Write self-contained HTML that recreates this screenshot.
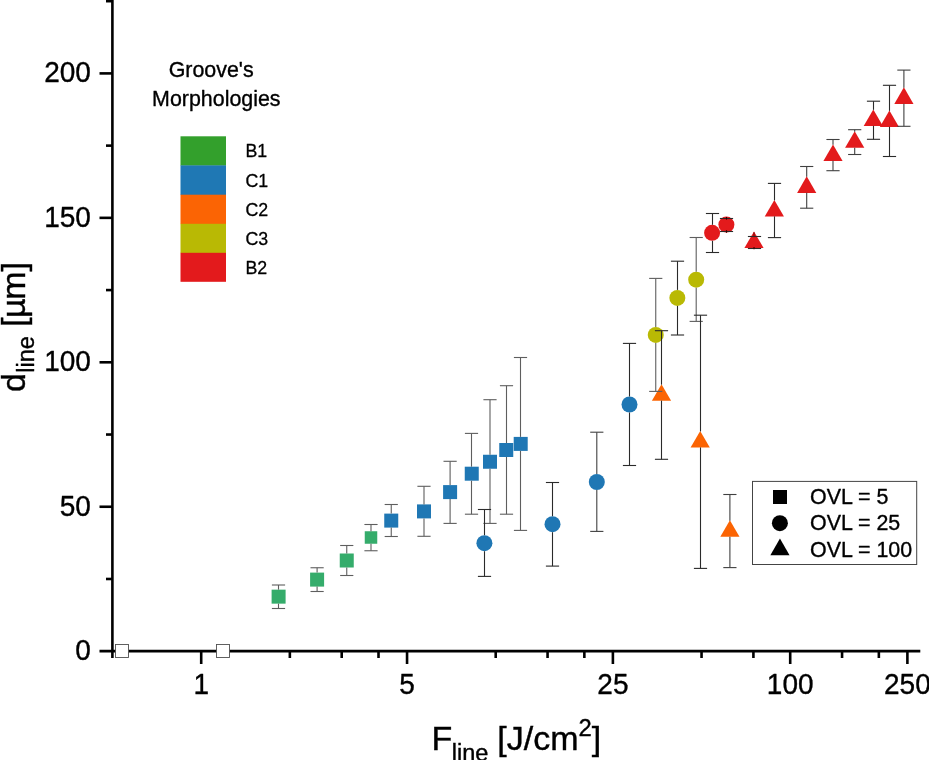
<!DOCTYPE html>
<html lang="en"><head><meta charset="utf-8"><title>d_line vs F_line</title>
<style>html,body{margin:0;padding:0;background:#fff}body{width:929px;height:760px;overflow:hidden}svg{display:block}</style>
</head><body>
<svg width="929" height="760" viewBox="0 0 929 760" font-family='"Liberation Sans", Arial, sans-serif'>
<rect width="929" height="760" fill="#fff"/>
<g stroke="#000" stroke-width="2.6" fill="none" stroke-linecap="butt">
<line x1="112.4" y1="0" x2="112.4" y2="657.9"/>
<line x1="99.5" y1="651.1" x2="920.3" y2="651.1"/>
<line x1="99.5" y1="506.75" x2="112.4" y2="506.75"/>
<line x1="99.5" y1="362.30" x2="112.4" y2="362.30"/>
<line x1="99.5" y1="217.85" x2="112.4" y2="217.85"/>
<line x1="99.5" y1="73.40" x2="112.4" y2="73.40"/>
<line x1="106" y1="578.98" x2="112.4" y2="578.98"/>
<line x1="106" y1="434.53" x2="112.4" y2="434.53"/>
<line x1="106" y1="290.08" x2="112.4" y2="290.08"/>
<line x1="106" y1="145.63" x2="112.4" y2="145.63"/>
<line x1="106" y1="1.18" x2="112.4" y2="1.18"/>
<line x1="201.20" y1="651.2" x2="201.20" y2="664"/>
<line x1="407.05" y1="651.2" x2="407.05" y2="664"/>
<line x1="612.89" y1="651.2" x2="612.89" y2="664"/>
<line x1="790.20" y1="651.2" x2="790.20" y2="664"/>
<line x1="907.39" y1="651.2" x2="907.39" y2="664"/>
<line x1="289.85" y1="651.2" x2="289.85" y2="658"/>
<line x1="341.71" y1="651.2" x2="341.71" y2="658"/>
<line x1="378.51" y1="651.2" x2="378.51" y2="658"/>
<line x1="495.70" y1="651.2" x2="495.70" y2="658"/>
<line x1="547.56" y1="651.2" x2="547.56" y2="658"/>
<line x1="584.35" y1="651.2" x2="584.35" y2="658"/>
<line x1="701.55" y1="651.2" x2="701.55" y2="658"/>
<line x1="753.41" y1="651.2" x2="753.41" y2="658"/>
<line x1="842.06" y1="651.2" x2="842.06" y2="658"/>
<line x1="878.85" y1="651.2" x2="878.85" y2="658"/>
</g>
<text transform="translate(90.90,660.20) scale(1,1.04)" font-size="28" text-anchor="end" fill="#000" stroke="#000" stroke-width="0.35" stroke-linejoin="round">0</text>
<text transform="translate(90.90,515.75) scale(1,1.04)" font-size="28" text-anchor="end" fill="#000" stroke="#000" stroke-width="0.35" stroke-linejoin="round">50</text>
<text transform="translate(90.90,371.30) scale(1,1.04)" font-size="28" text-anchor="end" fill="#000" stroke="#000" stroke-width="0.35" stroke-linejoin="round">100</text>
<text transform="translate(90.90,226.85) scale(1,1.04)" font-size="28" text-anchor="end" fill="#000" stroke="#000" stroke-width="0.35" stroke-linejoin="round">150</text>
<text transform="translate(90.90,82.40) scale(1,1.04)" font-size="28" text-anchor="end" fill="#000" stroke="#000" stroke-width="0.35" stroke-linejoin="round">200</text>
<text transform="translate(201.20,694.20) scale(1,1.04)" font-size="28" text-anchor="middle" fill="#000" stroke="#000" stroke-width="0.35" stroke-linejoin="round">1</text>
<text transform="translate(407.05,694.20) scale(1,1.04)" font-size="28" text-anchor="middle" fill="#000" stroke="#000" stroke-width="0.35" stroke-linejoin="round">5</text>
<text transform="translate(612.89,694.20) scale(1,1.04)" font-size="28" text-anchor="middle" fill="#000" stroke="#000" stroke-width="0.35" stroke-linejoin="round">25</text>
<text transform="translate(790.20,694.20) scale(1,1.04)" font-size="28" text-anchor="middle" fill="#000" stroke="#000" stroke-width="0.35" stroke-linejoin="round">100</text>
<text transform="translate(907.39,694.20) scale(1,1.04)" font-size="28" text-anchor="middle" fill="#000" stroke="#000" stroke-width="0.35" stroke-linejoin="round">250</text>
<text x="431.6" y="749.6" font-size="34" fill="#000" stroke="#000" stroke-width="0.4">F<tspan font-size="23.5" dy="11" dx="-0.6">line</tspan><tspan dy="-11" dx="-0.5"> [J/cm</tspan><tspan font-size="23.8" dy="-13.3">2</tspan><tspan dy="13.3">]</tspan></text>
<text transform="translate(25.2,392) rotate(-90)" font-size="34" fill="#000" stroke="#000" stroke-width="0.4">d<tspan font-size="23.5" dy="8.7" dx="0.3">line</tspan><tspan dy="-8.7" dx="-0.2"> [</tspan><tspan dx="-0.5">µ</tspan><tspan dx="-1.4">m]</tspan></text>
<rect x="115.5" y="644.5" width="13" height="13" fill="#fff" stroke="#505050" stroke-width="0.9"/>
<rect x="216.5" y="644.5" width="13" height="13" fill="#fff" stroke="#505050" stroke-width="0.9"/>
<rect x="271.60" y="589.65" width="14" height="14" fill="#35ac6b"/>
<rect x="310.10" y="572.60" width="14" height="14" fill="#35ac6b"/>
<rect x="339.75" y="553.50" width="14" height="14" fill="#35ac6b"/>
<rect x="364.75" y="531.25" width="12.5" height="12.5" fill="#35ac6b"/>
<rect x="384.25" y="513.60" width="14" height="14" fill="#1f77b4"/>
<rect x="417.00" y="504.40" width="14" height="14" fill="#1f77b4"/>
<rect x="443.10" y="485.10" width="14" height="14" fill="#1f77b4"/>
<rect x="464.75" y="466.70" width="14" height="14" fill="#1f77b4"/>
<rect x="483.00" y="454.75" width="14" height="14" fill="#1f77b4"/>
<rect x="499.25" y="443.00" width="14" height="14" fill="#1f77b4"/>
<rect x="513.70" y="436.90" width="14" height="14" fill="#1f77b4"/>
<circle cx="484.4" cy="543.2" r="8" fill="#1f77b4"/>
<circle cx="552.5" cy="524.2" r="8" fill="#1f77b4"/>
<circle cx="596.8" cy="482" r="8" fill="#1f77b4"/>
<circle cx="629.5" cy="404.5" r="8" fill="#1f77b4"/>
<circle cx="655.75" cy="334.9" r="8" fill="#b9b904"/>
<circle cx="677.35" cy="297.9" r="8" fill="#b9b904"/>
<circle cx="696.2" cy="279.7" r="8" fill="#b9b904"/>
<circle cx="712.1" cy="232.8" r="8" fill="#e31a1c"/>
<circle cx="726.4" cy="224.6" r="8" fill="#e31a1c"/>
<polygon points="651.90,400.78 671.10,400.78 661.50,384.18" fill="#fb6403"/>
<polygon points="690.60,447.58 709.80,447.58 700.20,430.98" fill="#fb6403"/>
<polygon points="720.30,536.78 739.50,536.78 729.90,520.18" fill="#fb6403"/>
<polygon points="744.40,247.98 763.60,247.98 754.00,231.38" fill="#e31a1c"/>
<polygon points="764.75,216.48 783.95,216.48 774.35,199.88" fill="#e31a1c"/>
<polygon points="797.10,192.88 816.30,192.88 806.70,176.28" fill="#e31a1c"/>
<polygon points="823.40,160.98 842.60,160.98 833.00,144.38" fill="#e31a1c"/>
<polygon points="845.10,147.78 864.30,147.78 854.70,131.18" fill="#e31a1c"/>
<polygon points="863.70,125.98 882.90,125.98 873.30,109.38" fill="#e31a1c"/>
<polygon points="879.80,126.98 899.00,126.98 889.40,110.38" fill="#e31a1c"/>
<polygon points="894.30,103.88 913.50,103.88 903.90,87.28" fill="#e31a1c"/>
<g fill="none" stroke-width="1.1">
<line x1="278.5" y1="585" x2="278.5" y2="589.65" stroke="#5e5e5e"/>
<line x1="278.5" y1="603.65" x2="278.5" y2="608.5" stroke="#5e5e5e"/>
<line x1="271.90" y1="585" x2="285.10" y2="585" stroke="#5e5e5e"/>
<line x1="271.90" y1="608.5" x2="285.10" y2="608.5" stroke="#5e5e5e"/>
<line x1="317.1" y1="567.75" x2="317.1" y2="572.60" stroke="#5e5e5e"/>
<line x1="317.1" y1="586.60" x2="317.1" y2="591.5" stroke="#5e5e5e"/>
<line x1="310.50" y1="567.75" x2="323.70" y2="567.75" stroke="#5e5e5e"/>
<line x1="310.50" y1="591.5" x2="323.70" y2="591.5" stroke="#5e5e5e"/>
<line x1="346.75" y1="545.5" x2="346.75" y2="553.50" stroke="#5e5e5e"/>
<line x1="346.75" y1="567.50" x2="346.75" y2="575.5" stroke="#5e5e5e"/>
<line x1="340.15" y1="545.5" x2="353.35" y2="545.5" stroke="#5e5e5e"/>
<line x1="340.15" y1="575.5" x2="353.35" y2="575.5" stroke="#5e5e5e"/>
<line x1="371" y1="524.5" x2="371" y2="531.25" stroke="#5e5e5e"/>
<line x1="371" y1="543.75" x2="371" y2="550.75" stroke="#5e5e5e"/>
<line x1="364.40" y1="524.5" x2="377.60" y2="524.5" stroke="#5e5e5e"/>
<line x1="364.40" y1="550.75" x2="377.60" y2="550.75" stroke="#5e5e5e"/>
<line x1="391.25" y1="504.5" x2="391.25" y2="513.60" stroke="#5e5e5e"/>
<line x1="391.25" y1="527.60" x2="391.25" y2="536.5" stroke="#5e5e5e"/>
<line x1="384.65" y1="504.5" x2="397.85" y2="504.5" stroke="#5e5e5e"/>
<line x1="384.65" y1="536.5" x2="397.85" y2="536.5" stroke="#5e5e5e"/>
<line x1="424" y1="486.3" x2="424" y2="504.40" stroke="#5e5e5e"/>
<line x1="424" y1="518.40" x2="424" y2="536.3" stroke="#5e5e5e"/>
<line x1="417.40" y1="486.3" x2="430.60" y2="486.3" stroke="#5e5e5e"/>
<line x1="417.40" y1="536.3" x2="430.60" y2="536.3" stroke="#5e5e5e"/>
<line x1="450.1" y1="461.3" x2="450.1" y2="485.10" stroke="#5e5e5e"/>
<line x1="450.1" y1="499.10" x2="450.1" y2="523.4" stroke="#5e5e5e"/>
<line x1="443.50" y1="461.3" x2="456.70" y2="461.3" stroke="#5e5e5e"/>
<line x1="443.50" y1="523.4" x2="456.70" y2="523.4" stroke="#5e5e5e"/>
<line x1="471.5" y1="433.4" x2="471.5" y2="466.70" stroke="#5e5e5e"/>
<line x1="471.5" y1="480.70" x2="471.5" y2="514.2" stroke="#5e5e5e"/>
<line x1="464.90" y1="433.4" x2="478.10" y2="433.4" stroke="#5e5e5e"/>
<line x1="464.90" y1="514.2" x2="478.10" y2="514.2" stroke="#5e5e5e"/>
<line x1="490" y1="399.7" x2="490" y2="454.75" stroke="#5e5e5e"/>
<line x1="490" y1="468.75" x2="490" y2="523.4" stroke="#5e5e5e"/>
<line x1="483.40" y1="399.7" x2="496.60" y2="399.7" stroke="#5e5e5e"/>
<line x1="483.40" y1="523.4" x2="496.60" y2="523.4" stroke="#5e5e5e"/>
<line x1="506.5" y1="385.7" x2="506.5" y2="443.00" stroke="#5e5e5e"/>
<line x1="506.5" y1="457.00" x2="506.5" y2="514.2" stroke="#5e5e5e"/>
<line x1="499.90" y1="385.7" x2="513.10" y2="385.7" stroke="#5e5e5e"/>
<line x1="499.90" y1="514.2" x2="513.10" y2="514.2" stroke="#5e5e5e"/>
<line x1="520.5" y1="357.5" x2="520.5" y2="436.90" stroke="#5e5e5e"/>
<line x1="520.5" y1="450.90" x2="520.5" y2="530.4" stroke="#5e5e5e"/>
<line x1="513.90" y1="357.5" x2="527.10" y2="357.5" stroke="#5e5e5e"/>
<line x1="513.90" y1="530.4" x2="527.10" y2="530.4" stroke="#5e5e5e"/>
<line x1="484.5" y1="509.5" x2="484.5" y2="535.20" stroke="#2a2a2a"/>
<line x1="484.5" y1="551.20" x2="484.5" y2="576.4" stroke="#2a2a2a"/>
<line x1="477.90" y1="509.5" x2="491.10" y2="509.5" stroke="#2a2a2a"/>
<line x1="477.90" y1="576.4" x2="491.10" y2="576.4" stroke="#2a2a2a"/>
<line x1="552.5" y1="482.5" x2="552.5" y2="516.20" stroke="#2a2a2a"/>
<line x1="552.5" y1="532.20" x2="552.5" y2="566.1" stroke="#2a2a2a"/>
<line x1="545.90" y1="482.5" x2="559.10" y2="482.5" stroke="#2a2a2a"/>
<line x1="545.90" y1="566.1" x2="559.10" y2="566.1" stroke="#2a2a2a"/>
<line x1="596.8" y1="432.2" x2="596.8" y2="474.00" stroke="#404040"/>
<line x1="596.8" y1="490.00" x2="596.8" y2="531.4" stroke="#404040"/>
<line x1="590.20" y1="432.2" x2="603.40" y2="432.2" stroke="#404040"/>
<line x1="590.20" y1="531.4" x2="603.40" y2="531.4" stroke="#404040"/>
<line x1="629.5" y1="343.4" x2="629.5" y2="396.50" stroke="#2a2a2a"/>
<line x1="629.5" y1="412.50" x2="629.5" y2="465.5" stroke="#2a2a2a"/>
<line x1="622.90" y1="343.4" x2="636.10" y2="343.4" stroke="#2a2a2a"/>
<line x1="622.90" y1="465.5" x2="636.10" y2="465.5" stroke="#2a2a2a"/>
<line x1="655.75" y1="278.4" x2="655.75" y2="326.90" stroke="#5e5e5e"/>
<line x1="655.75" y1="342.90" x2="655.75" y2="391.4" stroke="#5e5e5e"/>
<line x1="649.15" y1="278.4" x2="662.35" y2="278.4" stroke="#5e5e5e"/>
<line x1="649.15" y1="391.4" x2="662.35" y2="391.4" stroke="#5e5e5e"/>
<line x1="677.5" y1="261.2" x2="677.5" y2="289.90" stroke="#2a2a2a"/>
<line x1="677.5" y1="305.90" x2="677.5" y2="335" stroke="#2a2a2a"/>
<line x1="670.90" y1="261.2" x2="684.10" y2="261.2" stroke="#2a2a2a"/>
<line x1="670.90" y1="335" x2="684.10" y2="335" stroke="#2a2a2a"/>
<line x1="696.2" y1="237.5" x2="696.2" y2="271.70" stroke="#5e5e5e"/>
<line x1="696.2" y1="287.70" x2="696.2" y2="321.4" stroke="#5e5e5e"/>
<line x1="689.60" y1="237.5" x2="702.80" y2="237.5" stroke="#5e5e5e"/>
<line x1="689.60" y1="321.4" x2="702.80" y2="321.4" stroke="#5e5e5e"/>
<line x1="712.5" y1="213.5" x2="712.5" y2="224.80" stroke="#2a2a2a"/>
<line x1="712.5" y1="240.80" x2="712.5" y2="252.5" stroke="#2a2a2a"/>
<line x1="705.90" y1="213.5" x2="719.10" y2="213.5" stroke="#2a2a2a"/>
<line x1="705.90" y1="252.5" x2="719.10" y2="252.5" stroke="#2a2a2a"/>
<line x1="719.90" y1="218.5" x2="733.10" y2="218.5" stroke="#2a2a2a"/>
<line x1="719.90" y1="231.5" x2="733.10" y2="231.5" stroke="#2a2a2a"/>
<line x1="661.5" y1="330.7" x2="661.5" y2="384.63" stroke="#2a2a2a"/>
<line x1="661.5" y1="400.63" x2="661.5" y2="459.3" stroke="#2a2a2a"/>
<line x1="654.90" y1="330.7" x2="668.10" y2="330.7" stroke="#2a2a2a"/>
<line x1="654.90" y1="459.3" x2="668.10" y2="459.3" stroke="#2a2a2a"/>
<line x1="700.5" y1="315.2" x2="700.5" y2="431.43" stroke="#2a2a2a"/>
<line x1="700.5" y1="447.43" x2="700.5" y2="568.4" stroke="#2a2a2a"/>
<line x1="693.90" y1="315.2" x2="707.10" y2="315.2" stroke="#2a2a2a"/>
<line x1="693.90" y1="568.4" x2="707.10" y2="568.4" stroke="#2a2a2a"/>
<line x1="729.9" y1="494.5" x2="729.9" y2="520.63" stroke="#404040"/>
<line x1="729.9" y1="536.63" x2="729.9" y2="567.6" stroke="#404040"/>
<line x1="723.30" y1="494.5" x2="736.50" y2="494.5" stroke="#404040"/>
<line x1="723.30" y1="567.6" x2="736.50" y2="567.6" stroke="#404040"/>
<line x1="754.5" y1="247.83" x2="754.5" y2="248.5" stroke="#2a2a2a"/>
<line x1="747.90" y1="236.5" x2="761.10" y2="236.5" stroke="#2a2a2a"/>
<line x1="747.90" y1="248.5" x2="761.10" y2="248.5" stroke="#2a2a2a"/>
<line x1="774.5" y1="183.4" x2="774.5" y2="200.33" stroke="#2a2a2a"/>
<line x1="774.5" y1="216.33" x2="774.5" y2="237.6" stroke="#2a2a2a"/>
<line x1="767.90" y1="183.4" x2="781.10" y2="183.4" stroke="#2a2a2a"/>
<line x1="767.90" y1="237.6" x2="781.10" y2="237.6" stroke="#2a2a2a"/>
<line x1="806.7" y1="166.5" x2="806.7" y2="176.73" stroke="#404040"/>
<line x1="806.7" y1="192.73" x2="806.7" y2="208.2" stroke="#404040"/>
<line x1="800.10" y1="166.5" x2="813.30" y2="166.5" stroke="#404040"/>
<line x1="800.10" y1="208.2" x2="813.30" y2="208.2" stroke="#404040"/>
<line x1="833" y1="139.5" x2="833" y2="144.83" stroke="#404040"/>
<line x1="833" y1="160.83" x2="833" y2="170.7" stroke="#404040"/>
<line x1="826.40" y1="139.5" x2="839.60" y2="139.5" stroke="#404040"/>
<line x1="826.40" y1="170.7" x2="839.60" y2="170.7" stroke="#404040"/>
<line x1="854.7" y1="129.7" x2="854.7" y2="131.63" stroke="#404040"/>
<line x1="854.7" y1="147.63" x2="854.7" y2="154.5" stroke="#404040"/>
<line x1="848.10" y1="129.7" x2="861.30" y2="129.7" stroke="#404040"/>
<line x1="848.10" y1="154.5" x2="861.30" y2="154.5" stroke="#404040"/>
<line x1="873.5" y1="101.2" x2="873.5" y2="109.83" stroke="#2a2a2a"/>
<line x1="873.5" y1="125.83" x2="873.5" y2="139.3" stroke="#2a2a2a"/>
<line x1="866.90" y1="101.2" x2="880.10" y2="101.2" stroke="#2a2a2a"/>
<line x1="866.90" y1="139.3" x2="880.10" y2="139.3" stroke="#2a2a2a"/>
<line x1="889.5" y1="85.3" x2="889.5" y2="110.83" stroke="#2a2a2a"/>
<line x1="889.5" y1="126.83" x2="889.5" y2="156.5" stroke="#2a2a2a"/>
<line x1="882.90" y1="85.3" x2="896.10" y2="85.3" stroke="#2a2a2a"/>
<line x1="882.90" y1="156.5" x2="896.10" y2="156.5" stroke="#2a2a2a"/>
<line x1="903.9" y1="70.1" x2="903.9" y2="87.73" stroke="#404040"/>
<line x1="903.9" y1="103.73" x2="903.9" y2="126.3" stroke="#404040"/>
<line x1="897.30" y1="70.1" x2="910.50" y2="70.1" stroke="#404040"/>
<line x1="897.30" y1="126.3" x2="910.50" y2="126.3" stroke="#404040"/>
<line x1="726.5" y1="217.0" x2="726.5" y2="219.6" stroke="#300"/>
<line x1="726.5" y1="230.2" x2="726.5" y2="232.8" stroke="#300"/>
<line x1="754.0" y1="232.3" x2="754.0" y2="236.5" stroke="#7a0808"/>
<line x1="754.0" y1="247.0" x2="754.0" y2="249.2" stroke="#400"/>
</g>
<text transform="translate(211.10,76.80) scale(1,1.04)" font-size="21.4" text-anchor="middle" fill="#000" stroke="#000" stroke-width="0.35" stroke-linejoin="round">Groove's</text>
<text transform="translate(216.30,105.90) scale(1,1.04)" font-size="21.4" text-anchor="middle" fill="#000" stroke="#000" stroke-width="0.35" stroke-linejoin="round">Morphologies</text>
<rect x="180.5" y="136.30" width="45.5" height="29.40" fill="#33a02c"/>
<text transform="translate(245.50,157.40) scale(1,1.0)" font-size="17.8" text-anchor="start" fill="#000" stroke="#000" stroke-width="0.3" stroke-linejoin="round">B1</text>
<rect x="180.5" y="165.40" width="45.5" height="29.60" fill="#1f78b4"/>
<text transform="translate(245.50,186.52) scale(1,1.0)" font-size="17.8" text-anchor="start" fill="#000" stroke="#000" stroke-width="0.3" stroke-linejoin="round">C1</text>
<rect x="180.5" y="194.70" width="45.5" height="29.40" fill="#fb6404"/>
<text transform="translate(245.50,215.64) scale(1,1.0)" font-size="17.8" text-anchor="start" fill="#000" stroke="#000" stroke-width="0.3" stroke-linejoin="round">C2</text>
<rect x="180.5" y="223.80" width="45.5" height="29.30" fill="#b9b904"/>
<text transform="translate(245.50,244.76) scale(1,1.0)" font-size="17.8" text-anchor="start" fill="#000" stroke="#000" stroke-width="0.3" stroke-linejoin="round">C3</text>
<rect x="180.5" y="252.80" width="45.5" height="29.00" fill="#e31a1c"/>
<text transform="translate(245.50,273.88) scale(1,1.0)" font-size="17.8" text-anchor="start" fill="#000" stroke="#000" stroke-width="0.3" stroke-linejoin="round">B2</text>
<rect x="752.5" y="481.4" width="164.2" height="83.1" fill="#fff" stroke="#444" stroke-width="1"/>
<rect x="773" y="490" width="14" height="14" fill="#000"/>
<circle cx="779.9" cy="523.2" r="8" fill="#000"/>
<polygon points="770.35,555.18 789.55,555.18 779.95,538.58" fill="#000"/>
<text transform="translate(810.00,503.70) scale(1,1.04)" font-size="21.4" text-anchor="start" fill="#000" stroke="#000" stroke-width="0.35" stroke-linejoin="round">OVL = 5</text>
<text transform="translate(810.00,530.25) scale(1,1.04)" font-size="21.4" text-anchor="start" fill="#000" stroke="#000" stroke-width="0.35" stroke-linejoin="round">OVL = 25</text>
<text transform="translate(810.00,556.80) scale(1,1.04)" font-size="21.4" text-anchor="start" fill="#000" stroke="#000" stroke-width="0.35" stroke-linejoin="round">OVL = 100</text>
</svg>
</body></html>
